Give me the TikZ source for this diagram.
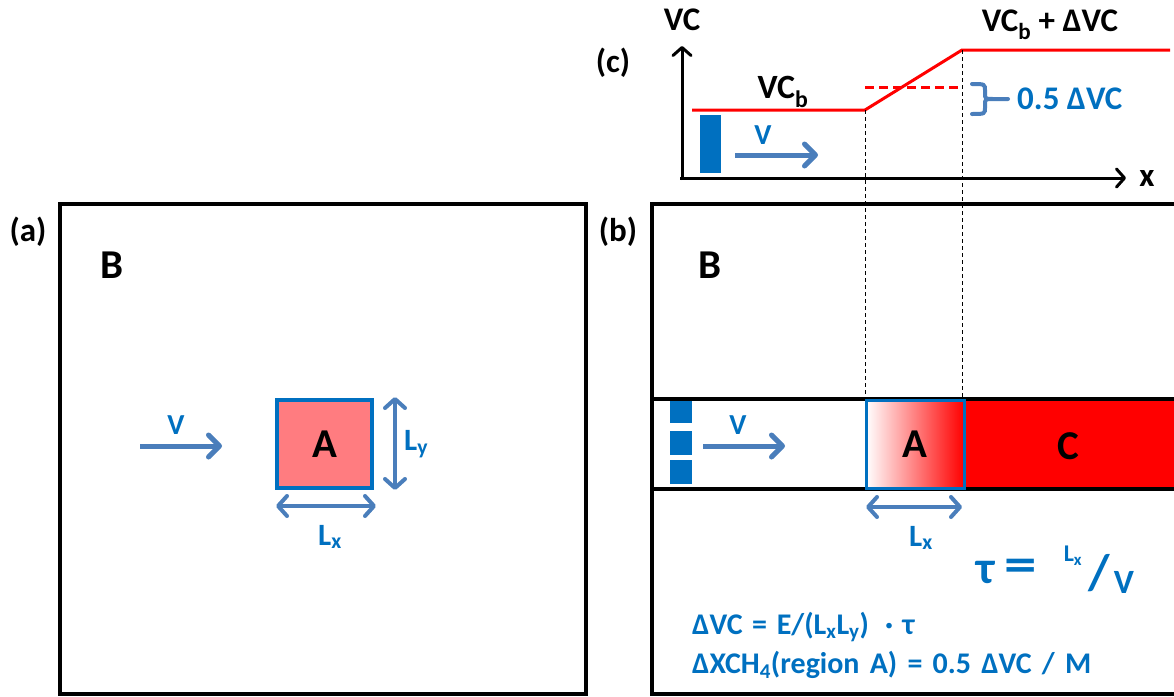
\documentclass[tikz,border=0pt]{standalone}
\usepackage{fontspec}
\setmainfont{Carlito}
\usetikzlibrary{arrows.meta}
\definecolor{tblue}{HTML}{0070C0}
\definecolor{ablue}{HTML}{4A7EBB}
\definecolor{lred}{HTML}{FF7C80}
\newcommand\fs[1]{\fontsize{#1}{#1}\selectfont\bfseries}
\newcommand\sbx[1]{\textsubscript{#1}}
\tikzset{
  lbl/.style={inner sep=0pt, font=\fs{33}},
  big/.style={inner sep=0pt, font=\fs{41}},
  blbl/.style={inner sep=0pt, font=\fs{29}, text=tblue},
  varrow/.style={ablue, line width=5pt, -{Straight Barb[length=11pt,width=22pt,line cap=round,line join=round]}},
  darrow/.style={ablue, line width=4pt, {Straight Barb[length=9pt,width=20pt,line cap=round,line join=round]}-{Straight Barb[length=9pt,width=20pt,line cap=round,line join=round]}},
  axis/.style={black, line width=3pt, -{Straight Barb[length=8pt,width=18pt,line cap=round,line join=round]}},
  frame/.style={black, line width=4pt},
  guide/.style={black, line width=0.8pt, dash pattern=on 4pt off 3pt},
  redl/.style={red, line width=3pt},
}
\begin{document}
\begin{tikzpicture}[x=1pt,y=-1pt]
\useasboundingbox (0,0) rectangle (1174,696);
% ---------- panel (a)
\draw[frame] (60,204) rectangle (586,694);
\node[lbl] (la) at (28,232) {(a)};
\node[big] (Ba) at (112,265) {B};
\coordinate (va1) at (140,446); \coordinate (va2) at (222,446);
\draw[varrow] (va1) -- (va2);
\node[blbl] (Va) at (176,425) {V};
\node[draw=tblue, line width=3.5pt, fill=lred, minimum width=95pt, minimum height=88pt, inner sep=0pt] (Aa) at (324.5,444) {};
\node[big] (Atext) at (Aa.center) {A};
\coordinate (ly1) at (395,397); \coordinate (ly2) at (395,490);
\draw[darrow] (ly1) -- (ly2);
\node[blbl, anchor=west, font=\fs{31}] (Lya) at (404,444) {L\sbx{y}};
\coordinate (lx1) at (276,506); \coordinate (lx2) at (376,506);
\draw[darrow] (lx1) -- (lx2);
\node[blbl, font=\fs{31}] (Lxa) at (330,537) {L\sbx{x}};
% ---------- panel (b)
\draw[frame] (1190,204) -- (652,204) -- (652,694) -- (1190,694);
\node[lbl] (lb) at (618,232) {(b)};
\node[big] (Bb) at (710,265) {B};
\fill[red] (963,399) rectangle (1180,489);
\shade[left color=white, right color=red] (866,400) rectangle (964,488);
\draw[black, line width=3.5pt] (652,399) -- (1180,399);
\draw[black, line width=3.5pt] (652,489) -- (1180,489);
\node[draw=tblue, line width=3pt, minimum width=98pt, minimum height=88pt, inner sep=0pt] (Ab) at (915,444) {};
\node[big] (Abtext) at (Ab.center) {A};
\node[big] (Cb) at (1068,446) {C};
\fill[tblue] (670,401) rectangle (692,423);
\fill[tblue] (670,431) rectangle (692,455);
\fill[tblue] (670,460) rectangle (692,484);
\coordinate (vb1) at (703,446); \coordinate (vb2) at (785,446);
\draw[varrow] (vb1) -- (vb2);
\node[blbl] (Vb) at (738,425) {V};
\coordinate (lxb1) at (866,507); \coordinate (lxb2) at (962,507);
\draw[darrow] (lxb1) -- (lxb2);
\node[blbl, font=\fs{31}] (Lxb) at (921,538) {L\sbx{x}};
% tau = Lx / V
\node[inner sep=0pt, text=tblue, font=\fs{46}] (tau) at (986,572) {τ};
\node[inner sep=0pt, text=tblue, font=\fs{50}] (eq) at (1021,570) {\scalebox{1.3}[1]{=}};
\node[inner sep=0pt, text=tblue, font=\fs{24}] (tLx) at (1073,556) {L\sbx{x}};
\node[inner sep=0pt, text=tblue, font=\fs{50}] (slash) at (1099,573) {/};
\node[inner sep=0pt, text=tblue, font=\fs{34}] (tV) at (1124,582) {V};
\node[blbl, anchor=west, font=\fs{30}] (f1) at (692,627) {\spaceskip=0.32em ΔVC = E/(L\sbx{x}L\sbx{y})\hspace{16pt}· τ};
\node[blbl, anchor=west, font=\fs{30}] (f2) at (692,665) {\spaceskip=0.34em ΔXCH\sbx{4}(region A) = 0.5 ΔVC / M};
% ---------- panel (c)
\node[lbl] (lc) at (613,63) {(c)};
\coordinate (yt) at (682,46);
\coordinate (xt) at (1126,178);
\draw[axis] (682,180) -- (yt);
\draw[axis] (680,178) -- (xt);
\node[lbl] (VCax) at (682,20) {VC};
\node[lbl] (xax) at (1147,178) {x};
\coordinate (r1) at (692,110); \coordinate (r2) at (865,110);
\coordinate (r3) at (962,50); \coordinate (r4) at (1170,50);
\draw[redl] (r1) -- (r2) -- (r3) -- (r4);
\coordinate (d1) at (865,87); \coordinate (d2) at (962,87);
\draw[redl, dash pattern=on 9pt off 5pt] (d1) -- (d2);
\draw[guide] (r2) -- (865,399);
\draw[guide] (r3) -- (962,399);
\node[inner sep=0pt, font=\fs{34}] (VCb) at (783,92) {VC\sbx{b}};
\node[inner sep=0pt, font=\fs{33}] (VCt) at (1050,25) {VC\sbx{b} + ΔVC};
\fill[tblue] (700,115) rectangle (721,173);
\coordinate (vc1) at (735,155); \coordinate (vc2) at (818,155);
\draw[varrow] (vc1) -- (vc2);
\node[blbl] (Vc) at (763,135) {V};
\draw[ablue, line width=4pt, line cap=round]
  (972,84) .. controls (985,84) .. (985,91) -- (985,93) .. controls (985,99) .. (993,99) -- (1008,99)
  (993,99) .. controls (985,99) .. (985,105) -- (985,107) .. controls (985,114) .. (972,114);
\node[blbl, anchor=west, font=\fs{33}] (half) at (1017,99) {0.5 ΔVC};
\end{tikzpicture}
\end{document}
